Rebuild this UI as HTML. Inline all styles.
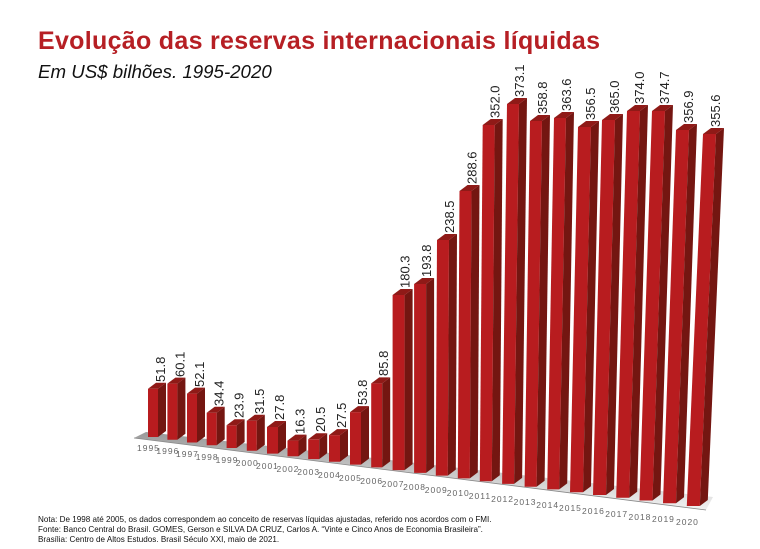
<!DOCTYPE html>
<html><head><meta charset="utf-8"><style>
html,body{margin:0;padding:0;background:#fff;width:760px;height:549px;overflow:hidden}
</style></head><body>
<svg width="760" height="549" viewBox="0 0 760 549" xmlns="http://www.w3.org/2000/svg" font-family="Liberation Sans, sans-serif">
<defs>
<linearGradient id="fl" x1="0" y1="0" x2="0" y2="1"><stop offset="0" stop-color="#9a9a9a"/><stop offset="1" stop-color="#f2f2f2"/></linearGradient>
</defs>
<text x="38" y="49" font-size="25" font-weight="bold" fill="#b61f24" letter-spacing="0.3">Evolução das reservas internacionais líquidas</text>
<text x="38" y="78" font-size="18.7" font-style="italic" fill="#111">Em US$ bilhões. 1995-2020</text>
<polygon points="134,438 146,432 713,497 706,510" fill="url(#fl)"/>
<polyline points="134,438 706,510" stroke="#888" stroke-width="0.8" fill="none"/>
<g>
<polygon points="148,437 148,388.8 158,388.8 158,437" fill="#b81c1f"/><polygon points="158,437 158,388.8 166,382.8 166,431" fill="#741611"/><polygon points="148,388.8 156,382.8 166,382.8 158,388.8" fill="#8f1a17"/>
<polygon points="167.4,439.8 167.4,383.6 177.4,383.6 177.4,439.8" fill="#b81c1f"/><polygon points="177.4,439.8 177.4,383.6 185.4,377.6 185.4,433.8" fill="#741611"/><polygon points="167.4,383.6 175.4,377.6 185.4,377.6 177.4,383.6" fill="#8f1a17"/>
<polygon points="187,442.5 187,393.6 197,393.6 197,442.5" fill="#b81c1f"/><polygon points="197,442.5 197,393.6 205,387.6 205,436.5" fill="#741611"/><polygon points="187,393.6 195,387.6 205,387.6 197,393.6" fill="#8f1a17"/>
<polygon points="206.7,445.3 206.7,412.8 216.7,412.8 216.7,445.3" fill="#b81c1f"/><polygon points="216.7,445.3 216.7,412.8 224.7,406.8 224.7,439.3" fill="#741611"/><polygon points="206.7,412.8 214.7,406.8 224.7,406.8 216.7,412.8" fill="#8f1a17"/>
<polygon points="226.6,448 226.6,425.3 236.6,425.3 236.6,448" fill="#b81c1f"/><polygon points="236.6,448 236.6,425.3 244.6,419.3 244.6,442" fill="#741611"/><polygon points="226.6,425.3 234.6,419.3 244.6,419.3 236.6,425.3" fill="#8f1a17"/>
<polygon points="246.8,450.8 246.8,420.8 256.8,420.8 256.8,450.8" fill="#b81c1f"/><polygon points="256.8,450.8 256.8,420.8 264.8,414.8 264.8,444.8" fill="#741611"/><polygon points="246.8,420.8 254.8,414.8 264.8,414.8 256.8,420.8" fill="#8f1a17"/>
<polygon points="267,453.6 267,427 278,427 278,453.6" fill="#b81c1f"/><polygon points="278,453.6 278,427 286,421 286,447.6" fill="#741611"/><polygon points="267,427 275,421 286,421 278,427" fill="#8f1a17"/>
<polygon points="287.5,456.3 287.5,440.6 298.5,440.6 298.5,456.3" fill="#b81c1f"/><polygon points="298.5,456.3 298.5,440.6 306.5,434.6 306.5,450.3" fill="#741611"/><polygon points="287.5,440.6 295.5,434.6 306.5,434.6 298.5,440.6" fill="#8f1a17"/>
<polygon points="308.2,459.1 308.2,439.3 319.2,439.3 319.2,459.1" fill="#b81c1f"/><polygon points="319.2,459.1 319.2,439.3 327.2,433.3 327.2,453.1" fill="#741611"/><polygon points="308.2,439.3 316.2,433.3 327.2,433.3 319.2,439.3" fill="#8f1a17"/>
<polygon points="329,461.8 329,435.1 340,435.1 340,461.8" fill="#b81c1f"/><polygon points="340,461.8 340,435.1 348,429.1 348,455.8" fill="#741611"/><polygon points="329,435.1 337,429.1 348,429.1 340,435.1" fill="#8f1a17"/>
<polygon points="350,464.6 350,412.1 361,412.1 361,464.6" fill="#b81c1f"/><polygon points="361,464.6 361,412.1 369,406.1 369,458.6" fill="#741611"/><polygon points="350,412.1 358,406.1 369,406.1 361,412.1" fill="#8f1a17"/>
<polygon points="371.2,467.4 371.2,383.4 382.2,383.4 382.2,467.4" fill="#b81c1f"/><polygon points="382.2,467.4 382.2,383.4 390.2,377.4 390.2,461.4" fill="#741611"/><polygon points="371.2,383.4 379.2,377.4 390.2,377.4 382.2,383.4" fill="#8f1a17"/>
<polygon points="392.6,470.1 392.6,295 404.6,295 404.6,470.1" fill="#b81c1f"/><polygon points="404.6,470.1 404.6,295 412.6,289 412.6,464.1" fill="#741611"/><polygon points="392.6,295 400.6,289 412.6,289 404.6,295" fill="#8f1a17"/>
<polygon points="414.1,472.9 414.1,284 426.1,284 426.1,472.9" fill="#b81c1f"/><polygon points="426.1,472.9 426.1,284 434.1,278 434.1,466.9" fill="#741611"/><polygon points="414.1,284 422.1,278 434.1,278 426.1,284" fill="#8f1a17"/>
<polygon points="435.8,475.6 437,240 449,240 447.8,475.6" fill="#b81c1f"/><polygon points="447.8,475.6 449,240 457,234 455.8,469.6" fill="#741611"/><polygon points="437,240 445,234 457,234 449,240" fill="#8f1a17"/>
<polygon points="457.8,478.4 459.5,191 471.5,191 469.8,478.4" fill="#b81c1f"/><polygon points="469.8,478.4 471.5,191 479.5,185 477.8,472.4" fill="#741611"/><polygon points="459.5,191 467.5,185 479.5,185 471.5,191" fill="#8f1a17"/>
<polygon points="479.8,481.2 482.7,125 494.7,125 491.8,481.2" fill="#b81c1f"/><polygon points="491.8,481.2 494.7,125 502.7,119 499.8,475.2" fill="#741611"/><polygon points="482.7,125 490.7,119 502.7,119 494.7,125" fill="#8f1a17"/>
<polygon points="502.1,483.9 507,104 519,104 514.1,483.9" fill="#b81c1f"/><polygon points="514.1,483.9 519,104 527,98 522.1,477.9" fill="#741611"/><polygon points="507,104 515,98 527,98 519,104" fill="#8f1a17"/>
<polygon points="524.6,486.7 530,121 542,121 536.6,486.7" fill="#b81c1f"/><polygon points="536.6,486.7 542,121 550,115 544.6,480.7" fill="#741611"/><polygon points="530,121 538,115 550,115 542,121" fill="#8f1a17"/>
<polygon points="547.2,489.4 554,118 566,118 559.2,489.4" fill="#b81c1f"/><polygon points="559.2,489.4 566,118 574,112 567.2,483.4" fill="#741611"/><polygon points="554,118 562,112 574,112 566,118" fill="#8f1a17"/>
<polygon points="570,492.2 578,127 591,127 583,492.2" fill="#b81c1f"/><polygon points="583,492.2 591,127 599,121 591,486.2" fill="#741611"/><polygon points="578,127 586,121 599,121 591,127" fill="#8f1a17"/>
<polygon points="593,495 602,120 615,120 606,495" fill="#b81c1f"/><polygon points="606,495 615,120 623,114 614,489" fill="#741611"/><polygon points="602,120 610,114 623,114 615,120" fill="#8f1a17"/>
<polygon points="616.2,497.7 627,111 640,111 629.2,497.7" fill="#b81c1f"/><polygon points="629.2,497.7 640,111 648,105 637.2,491.7" fill="#741611"/><polygon points="627,111 635,105 648,105 640,111" fill="#8f1a17"/>
<polygon points="639.5,500.5 652,111 665,111 652.5,500.5" fill="#b81c1f"/><polygon points="652.5,500.5 665,111 673,105 660.5,494.5" fill="#741611"/><polygon points="652,111 660,105 673,105 665,111" fill="#8f1a17"/>
<polygon points="663,503.2 676,130 689,130 676,503.2" fill="#b81c1f"/><polygon points="676,503.2 689,130 697,124 684,497.2" fill="#741611"/><polygon points="676,130 684,124 697,124 689,130" fill="#8f1a17"/>
<polygon points="686.8,506 703,134 716,134 699.8,506" fill="#b81c1f"/><polygon points="699.8,506 716,134 724,128 707.8,500" fill="#741611"/><polygon points="703,134 711,128 724,128 716,134" fill="#8f1a17"/>
</g>
<g font-size="13" fill="#222">
<text transform="translate(165,382) rotate(-90)">51.8</text>
<text transform="translate(184.4,377) rotate(-90)">60.1</text>
<text transform="translate(204,387) rotate(-90)">52.1</text>
<text transform="translate(223.7,406) rotate(-90)">34.4</text>
<text transform="translate(243.6,418) rotate(-90)">23.9</text>
<text transform="translate(263.8,414) rotate(-90)">31.5</text>
<text transform="translate(284,420) rotate(-90)">27.8</text>
<text transform="translate(304.5,434) rotate(-90)">16.3</text>
<text transform="translate(325.2,432) rotate(-90)">20.5</text>
<text transform="translate(346,428) rotate(-90)">27.5</text>
<text transform="translate(367,405) rotate(-90)">53.8</text>
<text transform="translate(388.2,376) rotate(-90)">85.8</text>
<text transform="translate(409.6,288) rotate(-90)">180.3</text>
<text transform="translate(431.1,277) rotate(-90)">193.8</text>
<text transform="translate(454,233) rotate(-90)">238.5</text>
<text transform="translate(476.5,184) rotate(-90)">288.6</text>
<text transform="translate(499.7,118) rotate(-90)">352.0</text>
<text transform="translate(524,97) rotate(-90)">373.1</text>
<text transform="translate(547,114) rotate(-90)">358.8</text>
<text transform="translate(571,111) rotate(-90)">363.6</text>
<text transform="translate(595,120) rotate(-90)">356.5</text>
<text transform="translate(619,113) rotate(-90)">365.0</text>
<text transform="translate(644,104) rotate(-90)">374.0</text>
<text transform="translate(669,104) rotate(-90)">374.7</text>
<text transform="translate(693,123) rotate(-90)">356.9</text>
<text transform="translate(720,127) rotate(-90)">355.6</text>
</g>
<g font-size="8.5" fill="#666" letter-spacing="1">
<text x="137" y="451">1995</text>
<text x="156.4" y="454">1996</text>
<text x="176" y="457">1997</text>
<text x="195.7" y="460">1998</text>
<text x="215.6" y="463">1999</text>
<text x="235.8" y="466">2000</text>
<text x="256" y="469">2001</text>
<text x="276.5" y="472">2002</text>
<text x="297.2" y="475">2003</text>
<text x="318" y="478">2004</text>
<text x="339" y="481">2005</text>
<text x="360.2" y="484">2006</text>
<text x="381.6" y="487">2007</text>
<text x="403.1" y="490">2008</text>
<text x="424.8" y="493">2009</text>
<text x="446.8" y="496">2010</text>
<text x="468.8" y="499">2011</text>
<text x="491.1" y="502">2012</text>
<text x="513.6" y="505">2013</text>
<text x="536.2" y="508">2014</text>
<text x="559" y="511">2015</text>
<text x="582" y="514">2016</text>
<text x="605.2" y="517">2017</text>
<text x="628.5" y="520">2018</text>
<text x="652" y="522">2019</text>
<text x="676" y="525">2020</text>
</g>
<g font-size="8.1" fill="#111">
<text x="38" y="522">Nota: De 1998 até 2005, os dados correspondem ao conceito de reservas líquidas ajustadas, referido nos acordos com o FMI.</text>
<text x="38" y="532">Fonte: Banco Central do Brasil. GOMES, Gerson e SILVA DA CRUZ, Carlos A. “Vinte e Cinco Anos de Economia Brasileira”.</text>
<text x="38" y="542">Brasília: Centro de Altos Estudos. Brasil Século XXI, maio de 2021.</text>
</g>
</svg>
</body></html>
